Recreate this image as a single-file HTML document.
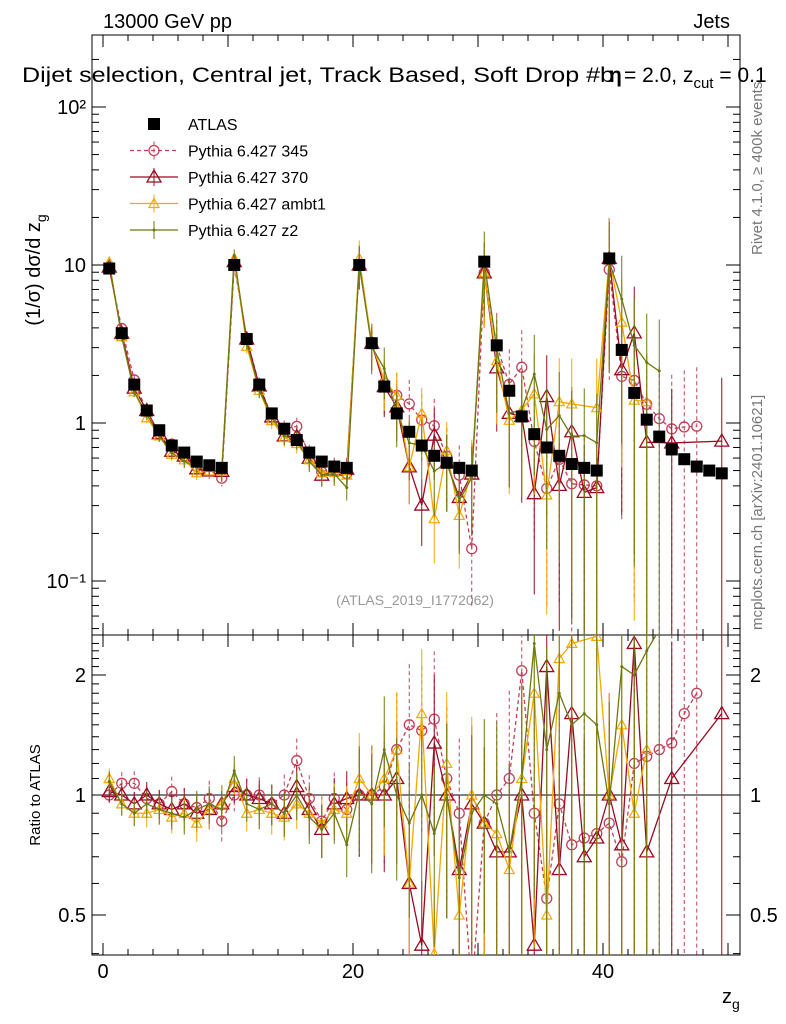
<!DOCTYPE html>
<html><head><meta charset="utf-8">
<style>
html,body{margin:0;padding:0;background:#fff;overflow:hidden;width:786px;height:1024px;}
svg{display:block;font-family:"Liberation Sans",Arial,sans-serif;}
</style></head>
<body>
<svg id="chart" width="786" height="1024" viewBox="0 0 786 1024">
<rect x="0" y="0" width="786" height="1024" fill="#fff"/>
<text x="103" y="28" font-size="20">13000 GeV pp</text>
<text x="730" y="28" font-size="20" text-anchor="end">Jets</text>
<g>
<text x="22" y="82" font-size="21" textLength="592" lengthAdjust="spacingAndGlyphs">Dijet selection, Central jet, Track Based, Soft Drop #b</text>
<text x="609" y="82" font-size="21" font-weight="bold">η</text>
<text x="624" y="82" font-size="21">= 2.0, z<tspan font-size="15" dy="6">cut</tspan><tspan dy="-6"> = 0.1</tspan></text>
</g>
<text transform="translate(762,255) rotate(-90)" font-size="15" fill="#777">Rivet 4.1.0, ≥ 400k events</text>
<text transform="translate(762,630) rotate(-90)" font-size="15" fill="#777">mcplots.cern.ch [arXiv:2401.10621]</text>
<text x="415" y="605" font-size="14" fill="#999" text-anchor="middle">(ATLAS_2019_I1772062)</text>
<text transform="translate(40,270) rotate(-90)" font-size="20" text-anchor="middle">(1/σ) dσ/d z<tspan font-size="14" dy="6">g</tspan></text>
<text transform="translate(40,795) rotate(-90)" font-size="15" text-anchor="middle">Ratio to ATLAS</text>
<text x="722" y="1003" font-size="20">z<tspan font-size="14" dy="6">g</tspan></text>
<g id="axes"></g>
<g id="marks"></g>
<g id="legend"></g>
</svg>
<script>
const centers=[];for(let i=0;i<50;i++)centers.push(i+0.5);
const atlas=[9.5,3.7,1.75,1.2,0.9,0.72,0.65,0.57,0.54,0.52,
10,3.4,1.75,1.15,0.92,0.78,0.65,0.57,0.53,0.52,
10,3.2,1.7,1.15,0.88,0.72,0.62,0.56,0.52,0.50,
10.5,3.1,1.6,1.1,0.85,0.70,0.62,0.55,0.52,0.50,
11,2.9,1.55,1.05,0.82,0.68,0.59,0.53,0.50,0.48];
const r345=[1.0,1.07,1.07,0.98,0.95,1.02,0.95,0.93,0.98,0.86,1.0,1.0,1.0,0.95,1.0,1.22,0.98,0.86,0.98,0.92,1.0,1.0,1.05,1.3,1.5,1.45,1.55,1.1,0.9,0.32,0.85,1.0,1.1,2.05,0.9,0.55,0.95,0.75,0.78,0.8,0.85,0.68,1.2,1.25,1.3,1.35,1.6,1.8,null,null];
const r370=[1.02,1.0,0.95,1.0,0.95,0.92,0.95,0.9,0.92,0.95,1.05,1.0,0.98,0.95,0.9,1.05,0.92,0.82,0.95,0.98,1.0,1.0,1.0,1.1,0.6,0.42,1.35,1.0,0.65,0.95,0.85,0.72,0.72,1.0,0.42,2.1,0.65,1.6,0.7,0.78,1.0,0.75,2.4,0.72,null,1.1,null,null,null,1.6];
const rAmbt1=[1.1,0.95,0.9,0.9,0.92,0.88,0.9,0.85,0.92,0.95,1.1,0.9,0.92,0.9,0.88,0.95,0.9,0.85,0.92,0.9,1.1,1.0,1.1,1.3,0.6,1.6,0.4,1.2,0.5,1.0,0.85,0.8,0.65,1.1,1.8,0.5,2.2,2.4,null,2.5,1.0,1.5,0.9,1.3,null,null,null,null,null,null];
const rZ2=[1.08,0.95,0.9,0.95,0.92,0.9,0.88,0.92,0.95,0.92,1.15,0.95,0.92,0.95,0.9,1.0,0.88,0.82,0.9,0.75,1.02,0.95,1.3,1.0,0.85,1.0,0.8,1.0,0.62,0.9,1.0,0.95,0.72,1.1,2.4,1.3,1.8,1.5,1.6,1.5,0.95,2.1,2.0,2.3,2.6,null,null,null,null,null];
const groupErr=[0.06,0.09,0.3,0.55,0.8];
const xTicks=[0,20,40];
const yTicks=[0.1,1,10,100];
const yTickLabels=["10⁻¹","1","10","10²"];
const rTicks=[0.5,1,2];
const rTickLabels=["0.5","1","2"];

const NS="http://www.w3.org/2000/svg";
const L=92,R=740,T=35,M=635,B=955;
const X=v=>103+12.5*v;
const Ym=v=>423-158*Math.log10(v);
const Yr=v=>795-398.6*Math.log10(v);
function el(tag,attrs,parent){const e=document.createElementNS(NS,tag);for(const k in attrs)e.setAttribute(k,attrs[k]);parent.appendChild(e);return e;}
const axes=document.getElementById('axes'),marks=document.getElementById('marks'),leg=document.getElementById('legend');

const f1=el('rect',{x:L,y:T,width:R-L,height:M-T,fill:'none',stroke:'#000','stroke-width':1},axes);


const f2=el('rect',{x:L,y:M,width:R-L,height:B-M,fill:'none',stroke:'#000','stroke-width':1},axes);


const one=el('line',{x1:L,x2:R,y1:Yr(1),y2:Yr(1),stroke:'#000'},axes);



for(let v=0;v<=50;v+=2){const big=v%10===0;const len=big?12:6;const x=X(v);
 [[M,M-len],[T,T+len],[B,B-len],[M,M+len]].forEach(p=>el('line',{x1:x,x2:x,y1:p[0],y2:p[1],stroke:'#000'},axes));}
xTicks.forEach(v=>{const t=el('text',{x:X(v),y:978,'font-size':20,'text-anchor':'middle'},axes);t.textContent=v;
 
 });
for(let d=-2;d<=2;d++)for(let m=1;m<10;m++){const v=m*Math.pow(10,d);const y=Ym(v);if(y<T||y>M)continue;const len=m===1?14:7;
 el('line',{x1:L,x2:L+len,y1:y,y2:y,stroke:'#000'},axes);el('line',{x1:R,x2:R-len,y1:y,y2:y,stroke:'#000'},axes);}
yTicks.forEach((v,i)=>{const t=el('text',{x:86,y:Ym(v)+7,'font-size':20,'text-anchor':'end'},axes);t.textContent=yTickLabels[i];
 
 });
for(let v=0.4;v<=2.5;v+=0.1){const y=Yr(v);if(y<M||y>B)continue;const big=Math.abs(v-0.5)<1e-6||Math.abs(v-1)<1e-6||Math.abs(v-2)<1e-6;const len=big?14:7;
 el('line',{x1:L,x2:L+len,y1:y,y2:y,stroke:'#000'},axes);el('line',{x1:R,x2:R-len,y1:y,y2:y,stroke:'#000'},axes);}
rTicks.forEach((v,i)=>{[[86,'end'],[750,'start']].forEach(p=>{const t=el('text',{x:p[0],y:Yr(v)+7,'font-size':20,'text-anchor':p[1]},axes);t.textContent=rTickLabels[i];
 
 });});

function marker(type,x,y,color,parent){
 if(type==='circle')return el('circle',{cx:x,cy:y,r:5,fill:'none',stroke:color,'stroke-width':1.3},parent);
 if(type==='tri')return el('path',{d:`M${x},${y-7}L${x+7},${y+5}L${x-7},${y+5}Z`,fill:'none',stroke:color,'stroke-width':1.3},parent);
 if(type==='tris')return el('path',{d:`M${x},${y-5}L${x+5},${y+4}L${x-5},${y+4}Z`,fill:'none',stroke:color,'stroke-width':1.2},parent);
 return el('circle',{cx:x,cy:y,r:1.5,fill:color},parent);
}
const series=[
 {name:'Pythia 6.427 345',r:r345,color:'#c0405a',dash:'4,3',m:'circle',id:'pythia-345'},
 {name:'Pythia 6.427 370',r:r370,color:'#9b0a22',dash:'',m:'tri',id:'pythia-370'},
 {name:'Pythia 6.427 ambt1',r:rAmbt1,color:'#f5a800',dash:'',m:'tris',id:'pythia-ambt1'},
 {name:'Pythia 6.427 z2',r:rZ2,color:'#6b7a10',dash:'',m:'dot',id:'pythia-z2'}
];
const clipM=el('clipPath',{id:'cm'},marks);el('rect',{x:L,y:T,width:R-L,height:M-T},clipM);
const clipR=el('clipPath',{id:'cr'},marks);el('rect',{x:L,y:M,width:R-L,height:B-M},clipR);
const gM=el('g',{'clip-path':'url(#cm)'},marks),gR=el('g',{'clip-path':'url(#cr)'},marks);

series.forEach(s=>{
 const gm=el('g',{},gM);
 
 
 const gr=el('g',{},gR);
 
 
 let pm=[],pr=[];
 s.r.forEach((r,i)=>{if(r==null)return;const e=groupErr[Math.floor(i/10)]*(1+0.1*(i%10));
  const v=atlas[i]*r;const x=X(centers[i]);
  const ym=Ym(v),yr=Yr(r);
  el('line',{x1:x,x2:x,y1:Ym(v*(1+e)),y2:Ym(Math.max(v*(1-e),0.01)),stroke:s.color,'stroke-dasharray':s.dash},gm);
  el('line',{x1:x,x2:x,y1:Yr(r*(1+e)),y2:Yr(Math.max(r*(1-e),0.01)),stroke:s.color,'stroke-dasharray':s.dash},gr);
  pm.push(x+','+ym);pr.push(x+','+yr);
  const a=marker(s.m,x,ym,s.color,gm);
  
  
  const b=marker(s.m,x,yr,s.color,gr);
  
  
 });
 el('polyline',{points:pm.join(' '),fill:'none',stroke:s.color,'stroke-width':1.3,'stroke-dasharray':s.dash},gm);
 el('polyline',{points:pr.join(' '),fill:'none',stroke:s.color,'stroke-width':1.3,'stroke-dasharray':s.dash},gr);
});
atlas.forEach((v,i)=>{const x=X(centers[i]),y=Ym(v);
 const q=el('rect',{x:x-6,y:y-6,width:12,height:12,fill:'#000'},gM);
 
 });

const items=[{name:'ATLAS',m:'sq',color:'#000',dash:''}].concat(series);
items.forEach((s,i)=>{const y=124+26.5*i;const g=el('g',{},leg);
 
 
 if(s.m==='sq'){el('rect',{x:148,y:y-6,width:12,height:12,fill:'#000'},g);}
 else{el('line',{x1:130,x2:178,y1:y,y2:y,stroke:s.color,'stroke-width':1.3,'stroke-dasharray':s.dash},g);
  el('line',{x1:154,x2:154,y1:y-9,y2:y+9,stroke:s.color,'stroke-dasharray':s.dash},g);
  marker(s.m,154,y,s.color,g);}
 const t=el('text',{x:188,y:y+6,'font-size':16},g);t.textContent=s.name;});
</script>
</body></html>
